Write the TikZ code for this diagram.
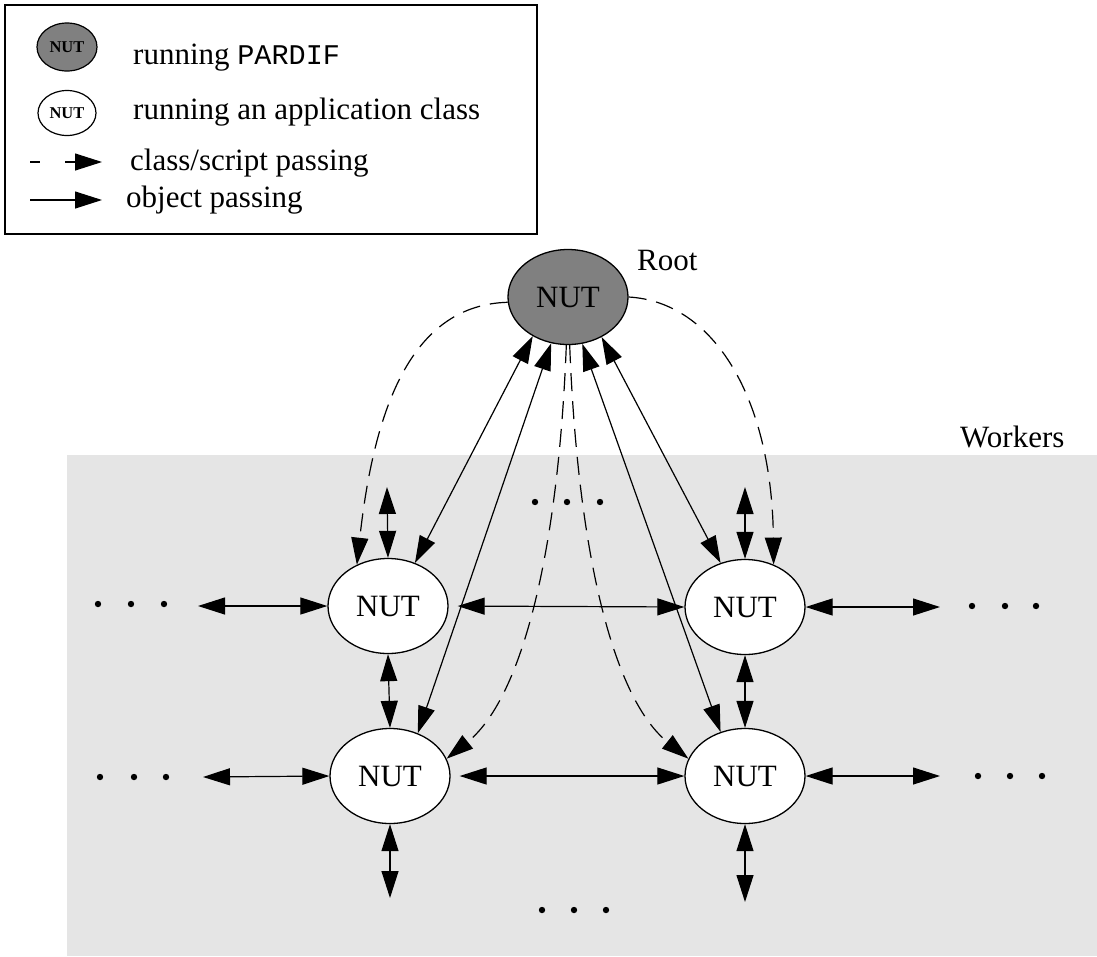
\documentclass[tikz,border=0pt]{standalone}
\usepackage{fontspec}
\setmainfont{Liberation Serif}
\setmonofont{Liberation Mono}
\usetikzlibrary{arrows.meta,shapes.geometric}
\definecolor{rootgray}{HTML}{808080}
\definecolor{poolgray}{HTML}{E5E5E5}
\tikzset{
  nut/.style={ellipse, draw, line width=1.3pt, fill=white, minimum width=120pt,
    minimum height=95pt, inner sep=0pt, font=\fontsize{31}{36}\selectfont},
  legnut/.style={ellipse, draw, line width=1.2pt, inner sep=0pt,
    font=\fontsize{16.5}{20}\selectfont\bfseries},
  lbl/.style={font=\fontsize{31}{36}\selectfont, inner sep=0pt, anchor=base west},
  obj/.style={line width=1.2pt},
  cls/.style={line width=1.2pt, dash pattern=on 18pt off 10pt},
  dot/.style={fill=black},
  >={Triangle[length=27pt,width=17pt]}
}
\begin{document}
\begin{tikzpicture}[x=1pt,y=-1pt]
\useasboundingbox (0,0) rectangle (1097,956);

% worker pool background
\fill[poolgray] (67,455) rectangle (1097,956);
\node[lbl] (workers) at (960,447) {Workers};

% legend
\draw[line width=1.3pt] (5,5) rectangle (537,234);
\node[legnut, fill=rootgray, minimum width=60pt, minimum height=48pt] (lgroot) at (67,47) {NUT};
\node[lbl] (lgt1) at (133,64) {running \texttt{\fontsize{28.5}{34}\selectfont PARDIF}};
\node[legnut, fill=white, minimum width=58pt, minimum height=45pt] (lgwork) at (67,113) {NUT};
\node[lbl] (lgt2) at (133,119) {running an application class};
\coordinate (lc1) at (30,162);
\coordinate (lc2) at (102,162);
\draw[line width=1.2pt, dash pattern=on 10pt off 25pt, ->] (lc1) -- (lc2);
\node[lbl] (lgt3) at (130,170) {class/script passing};
\coordinate (lo1) at (30,200);
\coordinate (lo2) at (102,200);
\draw[obj, ->] (lo1) -- (lo2);
\node[lbl] (lgt4) at (126,207) {object passing};

% nodes
\node[nut, fill=rootgray] (root) at (568,297) {NUT};
\node[lbl] (rootlbl) at (637,270) {Root};
\node[nut] (tl) at (388,606) {NUT};
\node[nut] (tr) at (745,607) {NUT};
\node[nut] (bl) at (390,776) {NUT};
\node[nut] (br) at (745,776) {NUT};

% free ends of the links to further workers
\coordinate (tlup) at (387,487);
\coordinate (trup) at (745,487);
\coordinate (tlleft) at (198,606);
\coordinate (blleft) at (203,777);
\coordinate (trright) at (940,607);
\coordinate (brright) at (940,776);
\coordinate (bldown) at (390,898);
\coordinate (brdown) at (745,902);

% object passing between workers
\draw[obj, <->] (tlup) -- (tl.90);
\draw[obj, <->] (trup) -- (tr.90);
\draw[obj, <->] (tlleft) -- (tl.180);
\draw[obj, <->] (blleft) -- (bl.180);
\draw[obj, <->] (tr.0) -- (trright);
\draw[obj, <->] (br.0) -- (brright);
\draw[obj, <->] (bl.270) -- (bldown);
\draw[obj, <->] (br.270) -- (brdown);
\draw[obj, <->, shorten <=9pt] (tl.0) -- (tr.180);
\draw[obj, <->, shorten <=9pt] (bl.0) -- (br.180);
\draw[obj, <->] (tl.270) -- (bl.90);
\draw[obj, <->] (tr.270) -- (br.90);

% object passing between root and workers
\draw[obj, <->] (root.228) -- (tl.58);
\draw[obj, <->] (root.310) -- (tr.119);
\draw[obj, <->] (root.250) -- (bl.57);
\draw[obj, <->] (root.287) -- (br.119);

% class/script passing from root
\draw[cls, ->] (root.185) .. controls (415,305) and (375,400) .. (tl.127);
\draw[cls, ->] (root.0) .. controls (715,302) and (772,400) .. (tr.56);
\draw[cls, ->] (root.268) .. controls (558,560) and (520,700) .. (bl.17);
\draw[cls, ->] (root.272) .. controls (578,560) and (615,700) .. (br.163);

% ellipses marking further workers
\foreach \x/\y in {535/502, 567/502, 600/502, 542/910, 574/910, 606/910,
                   98/604, 131/604, 164/604, 100/777, 134/777, 166/777,
                   972/606, 1005/606, 1036/606, 978/776, 1010/776, 1042/776}
  \fill[dot] (\x,\y) circle (3.2pt);
\end{tikzpicture}
\end{document}
